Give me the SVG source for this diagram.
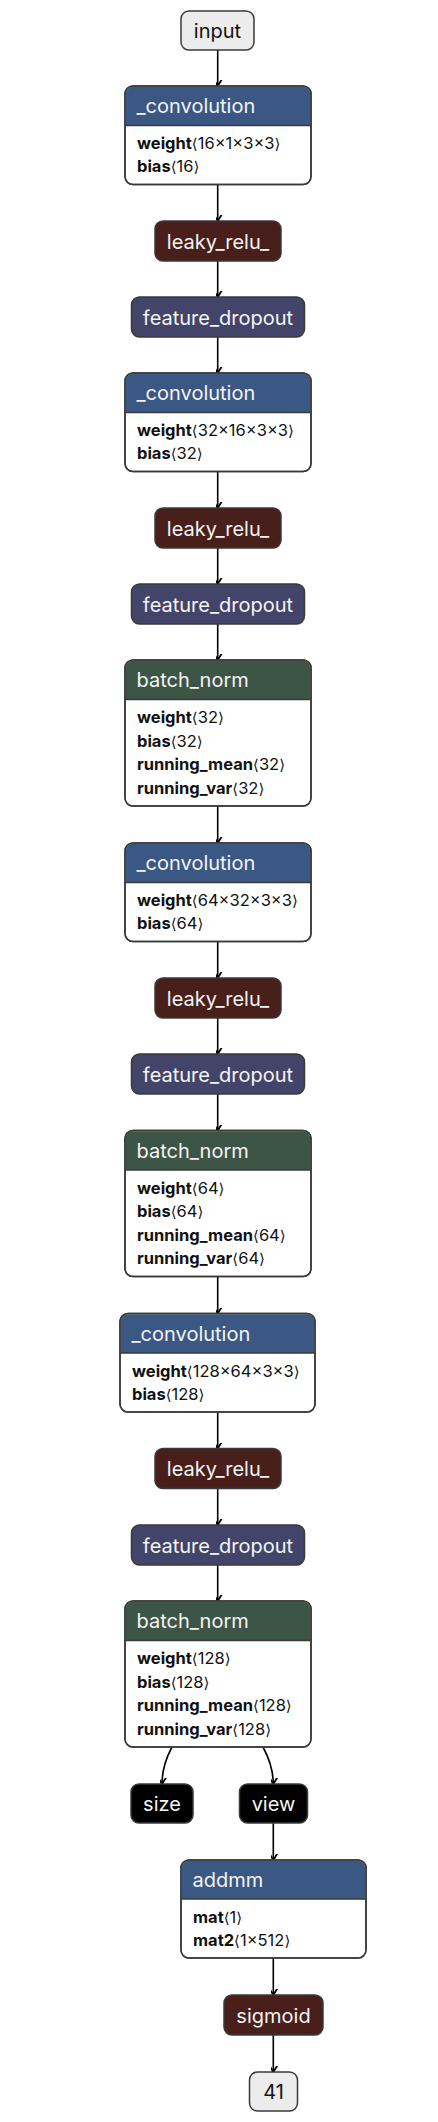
<svg xmlns="http://www.w3.org/2000/svg" width="438" height="2122" viewBox="0 0 438 2122">
<style>
text{font-family:Inter,"Liberation Sans","DejaVu Sans",sans-serif;}
.t{font-size:20px;fill:#f4f4f4;}
.tc{font-size:20px;fill:#f4f4f4;text-anchor:middle;}
.td{font-size:20px;fill:#111;text-anchor:middle;}
.b{font-size:16.5px;fill:#111;}
.b tspan.k{font-weight:bold;}
.b tspan.a{font-family:"DejaVu Sans",sans-serif;font-size:15px;}
.box{stroke:#3a3a3a;stroke-width:1.5;}
.conv{fill:#3b5784;}
.bn{fill:#3d5546;}
.lr{fill:#481f1a;}
.fd{fill:#43446a;}
.io{fill:#ececec;}
.blk{fill:#000;}
.body{fill:#fff;}
.e{fill:none;stroke:#000;stroke-width:1.6;marker-end:url(#ah);}
</style>
<defs>
<marker id="ah" markerWidth="12" markerHeight="12" viewBox="-6 -10 12 12" refX="0" refY="0" orient="auto-start-reverse" markerUnits="userSpaceOnUse">
<path d="M-5,-8 L0,0 L5,-8" fill="none" stroke="#000" stroke-width="1.8" transform="rotate(-90)"/>
</marker>
</defs>
<g id="edges">
<path class="e" d="M217.7,50 V86"/>
<path class="e" d="M217.7,184.5 V221"/>
<path class="e" d="M217.7,261 V297"/>
<path class="e" d="M217.7,337 V373"/>
<path class="e" d="M217.7,471.5 V508"/>
<path class="e" d="M217.7,548 V584"/>
<path class="e" d="M217.7,624 V660"/>
<path class="e" d="M217.7,806 V843"/>
<path class="e" d="M217.7,941.5 V978"/>
<path class="e" d="M217.7,1018 V1054"/>
<path class="e" d="M217.7,1094 V1130.5"/>
<path class="e" d="M217.7,1276.5 V1313.5"/>
<path class="e" d="M217.7,1412 V1448.5"/>
<path class="e" d="M217.7,1488.5 V1525"/>
<path class="e" d="M217.7,1565 V1601"/>
<path class="e" d="M172,1747 C165,1760 162,1770 162,1784"/>
<path class="e" d="M263,1747 C270,1760 273.3,1770 273.3,1784"/>
<path class="e" d="M273.3,1823 V1860"/>
<path class="e" d="M273.3,1958 V1995"/>
<path class="e" d="M273.3,2035 V2072"/>
</g>
<g id="input">
<rect class="box io" x="181" y="11" width="73" height="39" rx="8"/>
<text class="td" x="217.5" y="37.5">input</text>
</g>
<g id="conv1">
<rect class="box body" x="125" y="86" width="186" height="98.5" rx="8"/>
<path class="conv" d="M125.75,125.5 V94 a7.25,7.25 0 0 1 7.25,-7.25 H303 a7.25,7.25 0 0 1 7.25,7.25 V125.5 Z"/>
<rect class="box" x="125" y="86" width="186" height="98.5" rx="8" fill="none"/>
<line x1="125" y1="125.5" x2="311" y2="125.5" stroke="#3a3a3a" stroke-width="1.5"/>
<text class="t" x="136.5" y="113">_convolution</text>
<text class="b" x="137" y="149"><tspan class="k">weight</tspan><tspan class="a">⟨</tspan>16×1×3×3<tspan class="a">⟩</tspan></text>
<text class="b" x="137" y="172"><tspan class="k">bias</tspan><tspan class="a">⟨</tspan>16<tspan class="a">⟩</tspan></text>
</g>
<g id="leaky1">
<rect class="box lr" x="155" y="221" width="126" height="40" rx="8"/>
<text class="tc" x="218" y="248.5">leaky_relu_</text>
</g>
<g id="fd1">
<rect class="box fd" x="131.5" y="297" width="173" height="40" rx="8"/>
<text class="tc" x="218" y="324.5">feature_dropout</text>
</g>
<g id="conv2">
<rect class="box body" x="125" y="373" width="186" height="98.5" rx="8"/>
<path class="conv" d="M125.75,412.5 V381 a7.25,7.25 0 0 1 7.25,-7.25 H303 a7.25,7.25 0 0 1 7.25,7.25 V412.5 Z"/>
<rect class="box" x="125" y="373" width="186" height="98.5" rx="8" fill="none"/>
<line x1="125" y1="412.5" x2="311" y2="412.5" stroke="#3a3a3a" stroke-width="1.5"/>
<text class="t" x="136.5" y="400">_convolution</text>
<text class="b" x="137" y="436"><tspan class="k">weight</tspan><tspan class="a">⟨</tspan>32×16×3×3<tspan class="a">⟩</tspan></text>
<text class="b" x="137" y="459"><tspan class="k">bias</tspan><tspan class="a">⟨</tspan>32<tspan class="a">⟩</tspan></text>
</g>
<g id="leaky2">
<rect class="box lr" x="155" y="508" width="126" height="40" rx="8"/>
<text class="tc" x="218" y="535.5">leaky_relu_</text>
</g>
<g id="fd2">
<rect class="box fd" x="131.5" y="584" width="173" height="40" rx="8"/>
<text class="tc" x="218" y="611.5">feature_dropout</text>
</g>
<g id="bn1">
<rect class="box body" x="125" y="660" width="186" height="146" rx="8"/>
<path class="bn" d="M125.75,699.5 V668 a7.25,7.25 0 0 1 7.25,-7.25 H303 a7.25,7.25 0 0 1 7.25,7.25 V699.5 Z"/>
<rect class="box" x="125" y="660" width="186" height="146" rx="8" fill="none"/>
<line x1="125" y1="699.5" x2="311" y2="699.5" stroke="#3a3a3a" stroke-width="1.5"/>
<text class="t" x="136.5" y="687">batch_norm</text>
<text class="b" x="137" y="723"><tspan class="k">weight</tspan><tspan class="a">⟨</tspan>32<tspan class="a">⟩</tspan></text>
<text class="b" x="137" y="746.5"><tspan class="k">bias</tspan><tspan class="a">⟨</tspan>32<tspan class="a">⟩</tspan></text>
<text class="b" x="137" y="770"><tspan class="k">running_mean</tspan><tspan class="a">⟨</tspan>32<tspan class="a">⟩</tspan></text>
<text class="b" x="137" y="793.5"><tspan class="k">running_var</tspan><tspan class="a">⟨</tspan>32<tspan class="a">⟩</tspan></text>
</g>
<g id="conv3">
<rect class="box body" x="125" y="843" width="186" height="98.5" rx="8"/>
<path class="conv" d="M125.75,882.5 V851 a7.25,7.25 0 0 1 7.25,-7.25 H303 a7.25,7.25 0 0 1 7.25,7.25 V882.5 Z"/>
<rect class="box" x="125" y="843" width="186" height="98.5" rx="8" fill="none"/>
<line x1="125" y1="882.5" x2="311" y2="882.5" stroke="#3a3a3a" stroke-width="1.5"/>
<text class="t" x="136.5" y="870">_convolution</text>
<text class="b" x="137" y="906"><tspan class="k">weight</tspan><tspan class="a">⟨</tspan>64×32×3×3<tspan class="a">⟩</tspan></text>
<text class="b" x="137" y="929"><tspan class="k">bias</tspan><tspan class="a">⟨</tspan>64<tspan class="a">⟩</tspan></text>
</g>
<g id="leaky3">
<rect class="box lr" x="155" y="978" width="126" height="40" rx="8"/>
<text class="tc" x="218" y="1005.5">leaky_relu_</text>
</g>
<g id="fd3">
<rect class="box fd" x="131.5" y="1054" width="173" height="40" rx="8"/>
<text class="tc" x="218" y="1081.5">feature_dropout</text>
</g>
<g id="bn2">
<rect class="box body" x="125" y="1130.5" width="186" height="146" rx="8"/>
<path class="bn" d="M125.75,1170 V1138.5 a7.25,7.25 0 0 1 7.25,-7.25 H303 a7.25,7.25 0 0 1 7.25,7.25 V1170 Z"/>
<rect class="box" x="125" y="1130.5" width="186" height="146" rx="8" fill="none"/>
<line x1="125" y1="1170" x2="311" y2="1170" stroke="#3a3a3a" stroke-width="1.5"/>
<text class="t" x="136.5" y="1157.5">batch_norm</text>
<text class="b" x="137" y="1193.5"><tspan class="k">weight</tspan><tspan class="a">⟨</tspan>64<tspan class="a">⟩</tspan></text>
<text class="b" x="137" y="1217"><tspan class="k">bias</tspan><tspan class="a">⟨</tspan>64<tspan class="a">⟩</tspan></text>
<text class="b" x="137" y="1240.5"><tspan class="k">running_mean</tspan><tspan class="a">⟨</tspan>64<tspan class="a">⟩</tspan></text>
<text class="b" x="137" y="1264"><tspan class="k">running_var</tspan><tspan class="a">⟨</tspan>64<tspan class="a">⟩</tspan></text>
</g>
<g id="conv4">
<rect class="box body" x="120" y="1313.5" width="195" height="98.5" rx="8"/>
<path class="conv" d="M120.75,1353 V1321.5 a7.25,7.25 0 0 1 7.25,-7.25 H307 a7.25,7.25 0 0 1 7.25,7.25 V1353 Z"/>
<rect class="box" x="120" y="1313.5" width="195" height="98.5" rx="8" fill="none"/>
<line x1="120" y1="1353" x2="315" y2="1353" stroke="#3a3a3a" stroke-width="1.5"/>
<text class="t" x="131.5" y="1340.5">_convolution</text>
<text class="b" x="132" y="1376.5"><tspan class="k">weight</tspan><tspan class="a">⟨</tspan>128×64×3×3<tspan class="a">⟩</tspan></text>
<text class="b" x="132" y="1399.5"><tspan class="k">bias</tspan><tspan class="a">⟨</tspan>128<tspan class="a">⟩</tspan></text>
</g>
<g id="leaky4">
<rect class="box lr" x="155" y="1448.5" width="126" height="40" rx="8"/>
<text class="tc" x="218" y="1476">leaky_relu_</text>
</g>
<g id="fd4">
<rect class="box fd" x="131.5" y="1525" width="173" height="40" rx="8"/>
<text class="tc" x="218" y="1552.5">feature_dropout</text>
</g>
<g id="bn3">
<rect class="box body" x="125" y="1601" width="186" height="146" rx="8"/>
<path class="bn" d="M125.75,1640.5 V1609 a7.25,7.25 0 0 1 7.25,-7.25 H303 a7.25,7.25 0 0 1 7.25,7.25 V1640.5 Z"/>
<rect class="box" x="125" y="1601" width="186" height="146" rx="8" fill="none"/>
<line x1="125" y1="1640.5" x2="311" y2="1640.5" stroke="#3a3a3a" stroke-width="1.5"/>
<text class="t" x="136.5" y="1628">batch_norm</text>
<text class="b" x="137" y="1664"><tspan class="k">weight</tspan><tspan class="a">⟨</tspan>128<tspan class="a">⟩</tspan></text>
<text class="b" x="137" y="1687.5"><tspan class="k">bias</tspan><tspan class="a">⟨</tspan>128<tspan class="a">⟩</tspan></text>
<text class="b" x="137" y="1711"><tspan class="k">running_mean</tspan><tspan class="a">⟨</tspan>128<tspan class="a">⟩</tspan></text>
<text class="b" x="137" y="1734.5"><tspan class="k">running_var</tspan><tspan class="a">⟨</tspan>128<tspan class="a">⟩</tspan></text>
</g>
<g id="size">
<rect class="box blk" x="131" y="1784" width="62" height="39" rx="8"/>
<text class="tc" x="162" y="1811">size</text>
</g>
<g id="view">
<rect class="box blk" x="239.5" y="1784" width="68" height="39" rx="8"/>
<text class="tc" x="273.5" y="1811">view</text>
</g>
<g id="addmm">
<rect class="box body" x="181" y="1860" width="185" height="98" rx="8"/>
<path class="conv" d="M181.75,1899 V1868 a7.25,7.25 0 0 1 7.25,-7.25 H358 a7.25,7.25 0 0 1 7.25,7.25 V1899 Z"/>
<rect class="box" x="181" y="1860" width="185" height="98" rx="8" fill="none"/>
<line x1="181" y1="1899" x2="366" y2="1899" stroke="#3a3a3a" stroke-width="1.5"/>
<text class="t" x="192.5" y="1887">addmm</text>
<text class="b" x="193" y="1923"><tspan class="k">mat</tspan><tspan class="a">⟨</tspan>1<tspan class="a">⟩</tspan></text>
<text class="b" x="193" y="1946"><tspan class="k">mat2</tspan><tspan class="a">⟨</tspan>1×512<tspan class="a">⟩</tspan></text>
</g>
<g id="sigmoid">
<rect class="box lr" x="224" y="1995" width="99" height="40" rx="8"/>
<text class="tc" x="273.5" y="2022.5">sigmoid</text>
</g>
<g id="out41">
<rect class="box io" x="249.5" y="2072" width="48" height="39" rx="8"/>
<text class="td" x="273.5" y="2098.5">41</text>
</g>
</svg>
